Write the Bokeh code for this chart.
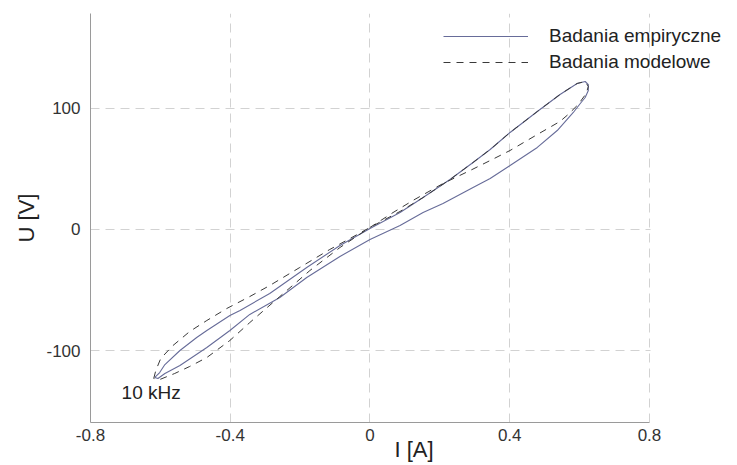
from bokeh.plotting import figure
from bokeh.models import Range1d, FixedTicker, Legend, LegendItem, Label, BoxAnnotation
from bokeh.embed import file_html
from bokeh.resources import INLINE

# ---- data ----
x_ticks = [-0.8, -0.4, 0.0, 0.4, 0.8]
x_tick_labels = ["-0.8", "-0.4", "0", "0.4", "0.8"]
y_ticks = [-100, 0, 100]
y_tick_labels = ["-100", "0", "100"]

series_names = ["Badania empiryczne", "Badania modelowe"]

# empirical loop: upper branch (bottom-left tip -> top-right tip)
emp_up_i = [-0.616, -0.602, -0.587, -0.544, -0.496, -0.467, -0.401, -0.372, -0.287, -0.181,
            -0.086, 0.000, 0.086, 0.152, 0.229, 0.295, 0.344, 0.401, 0.479, 0.544, 0.593, 0.616]
emp_up_u = [-122.3, -118.2, -111.6, -100.0, -89.3, -83.5, -71.1, -66.9, -52.9, -31.4,
            -13.2, 0.8, 14.0, 26.4, 41.3, 55.4, 66.1, 80.2, 97.5, 111.6, 120.7, 122.3]
# empirical loop: lower branch (top-right tip -> bottom-left tip)
emp_lo_i = [0.625, 0.625, 0.616, 0.602, 0.582, 0.536, 0.479, 0.401, 0.344, 0.295, 0.209, 0.152,
            0.086, 0.000, -0.086, -0.181, -0.258, -0.344, -0.401, -0.467, -0.544, -0.587, -0.607, -0.616]
emp_lo_u = [119.8, 114.9, 109.1, 104.1, 96.7, 81.8, 67.8, 52.9, 42.1, 34.7, 21.5, 14.0,
            3.3, -8.3, -22.3, -39.7, -56.2, -70.2, -83.5, -97.5, -112.4, -119.0, -123.1, -122.3]

# model loop: upper branch
mod_up_i = [-0.619, -0.613, -0.599, -0.564, -0.516, -0.467, -0.410, -0.344, -0.287, -0.201, -0.115,
            -0.057, 0.000, 0.086, 0.152, 0.229, 0.295, 0.344, 0.401, 0.479, 0.544, 0.593, 0.616]
mod_up_u = [-123.1, -116.5, -106.6, -95.9, -84.3, -75.2, -65.3, -55.4, -46.3, -31.4, -16.5,
            -7.4, 1.7, 14.9, 26.4, 41.3, 55.4, 66.1, 80.2, 97.5, 111.6, 120.7, 122.3]
# model loop: lower branch
mod_lo_i = [0.625, 0.619, 0.596, 0.567, 0.544, 0.479, 0.401, 0.344, 0.287, 0.209, 0.123, 0.066,
            0.000, -0.086, -0.172, -0.258, -0.344, -0.401, -0.467, -0.516, -0.559, -0.602, -0.619]
mod_lo_u = [118.2, 112.4, 103.3, 95.0, 89.3, 78.5, 65.3, 57.0, 48.8, 38.0, 24.0, 14.0,
            1.7, -14.9, -33.9, -55.4, -76.9, -91.7, -105.8, -113.2, -119.0, -124.0, -123.1]

annotation_text = "10 kHz"
annotation_pos = (-0.711, -134.7)

FONT = "Liberation Sans"
X_MIN, X_MAX = -0.8, 0.8
# the frame reaches the right edge of the page so the legend can sit there;
# the axis and the grid are cut at X_MAX
X_VIEW_END = 1.052

p = figure(width=737, height=465,
           x_range=Range1d(X_MIN, X_VIEW_END), y_range=Range1d(-159.5, 178.5),
           output_backend="svg", toolbar_location=None,
           min_border_left=90, min_border_right=0, min_border_top=13, min_border_bottom=43)
p.outline_line_color = None
p.background_fill_color = "white"
p.border_fill_color = "white"

p.xaxis.ticker = FixedTicker(ticks=x_ticks)
p.xaxis.major_label_overrides = {t: s for t, s in zip(x_ticks, x_tick_labels)}
p.xaxis.bounds = (X_MIN, X_MAX)
p.yaxis.ticker = FixedTicker(ticks=y_ticks)
p.yaxis.major_label_overrides = {t: s for t, s in zip(y_ticks, y_tick_labels)}

for ax in (p.xaxis, p.yaxis):
    ax.axis_line_color = "#9a9a9a"
    ax.axis_line_width = 1
    ax.major_tick_line_color = None
    ax.minor_tick_line_color = None
    ax.major_tick_out = 0
    ax.major_tick_in = 0
    ax.major_label_text_font = FONT
    ax.major_label_text_font_size = "17px"
    ax.major_label_text_color = "#333333"
    ax.axis_label_text_font = FONT
    ax.axis_label_text_font_size = "22px"
    ax.axis_label_text_font_style = "normal"
    ax.axis_label_text_color = "#222222"
p.xaxis.major_label_standoff = 6
p.yaxis.major_label_standoff = 10
p.xaxis.axis_label = "I [A]"
p.yaxis.axis_label = "U [V]"
p.xaxis.axis_label_standoff = -7
p.yaxis.axis_label_standoff = 4

p.grid.grid_line_color = "#d2d2d2"
p.grid.grid_line_dash = "9 6"
p.grid.grid_line_width = 1

# white mask right of the last grid line (the chart area ends at 0.8)
p.add_layout(BoxAnnotation(left=X_MAX + 0.003, fill_color="white", fill_alpha=1,
                           line_alpha=0, level="underlay"))

r_emp = p.line(emp_up_i + emp_lo_i, emp_up_u + emp_lo_u,
               line_color="#676c99", line_width=1.1)
r_mod = p.line(mod_up_i + mod_lo_i, mod_up_u + mod_lo_u,
               line_color="#3a3a3a", line_width=1, line_dash="7 6")

legend = Legend(items=[LegendItem(label=series_names[0], renderers=[r_emp]),
                       LegendItem(label=series_names[1], renderers=[r_mod])],
                location=(353, 349), padding=0, margin=0, spacing=4,
                glyph_width=85, glyph_height=22, label_height=22, label_standoff=21,
                label_text_font=FONT, label_text_font_size="19px",
                label_text_color="#222222",
                background_fill_alpha=0, border_line_alpha=0)
p.add_layout(legend)

p.add_layout(Label(x=annotation_pos[0], y=annotation_pos[1], text=annotation_text,
                   text_font=FONT, text_font_size="19px", text_color="#222222",
                   text_align="left", text_baseline="middle"))

open("out.html", "w").write(file_html(p, INLINE))
